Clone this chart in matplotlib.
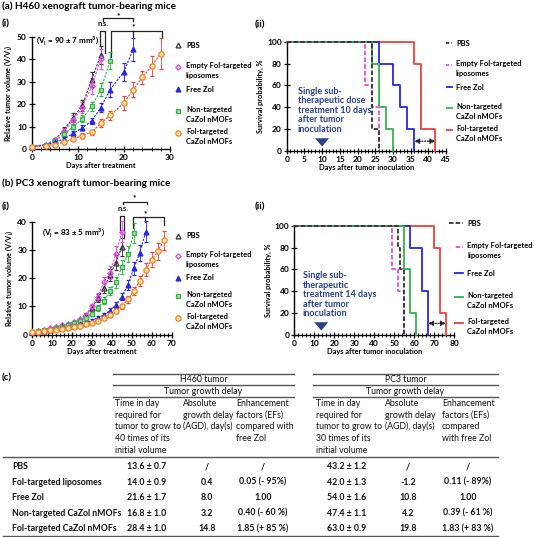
import matplotlib
matplotlib.use('Agg')
import matplotlib.pyplot as plt
from matplotlib.ticker import MultipleLocator

plt.rcParams['font.family'] = ['Lato', 'DejaVu Sans']
plt.rcParams['axes.linewidth'] = 1.0

# ---------------- data ----------------
# (a)(i) H460 tumor growth, relative volume V/Vi
h460_pbs_days = [0, 3, 5, 7, 9, 11, 13, 15]
h460_pbs = [1, 2, 4, 8.5, 14, 19.5, 31, 42]
h460_pbs_err = [0.2, 0.4, 0.8, 1.5, 2, 2.5, 3.5, 4]
h460_lip_days = [0, 3, 5, 7, 9, 11, 13, 15]
h460_lip = [1, 2, 4, 8, 13, 18.5, 28, 40]
h460_lip_err = [0.2, 0.4, 0.8, 1.5, 2, 2.5, 3.5, 4.5]
h460_zol_days = [0, 3, 5, 7, 9, 11, 13, 15, 17, 20, 22]
h460_zol = [1, 1.8, 3, 4.5, 7, 9.5, 12.5, 18.5, 26.5, 34.5, 44.5]
h460_zol_err = [0.2, 0.3, 0.5, 0.8, 1, 1.2, 1.5, 2, 3.5, 4, 5]
h460_non_days = [0, 3, 5, 7, 9, 11, 13, 15, 17]
h460_non = [1, 2, 3.5, 6.5, 10, 13.5, 19, 26.5, 39.5]
h460_non_err = [0.2, 0.3, 0.6, 1, 1.2, 1.5, 2, 3, 4]
h460_fol_days = [0, 3, 5, 7, 9, 11, 13, 15, 17, 20, 22, 24, 26, 28]
h460_fol = [1, 1.5, 2, 3, 4.5, 6, 7.5, 11.5, 15, 20.5, 26.5, 32, 37, 42.5]
h460_fol_err = [0.2, 0.3, 0.4, 0.6, 0.8, 1, 1.2, 1.8, 2, 3, 3.5, 3, 4.5, 7]

# (b)(i) PC3 tumor growth
pc3_pbs_days = [0, 3, 6, 9, 12, 15, 18, 21, 24, 27, 30, 33, 36, 39, 42, 45]
pc3_pbs = [1, 1.3, 1.8, 2.3, 2.8, 3.3, 3.8, 4.5, 5.5, 7, 9.5, 13, 16.5, 21, 25.5, 31]
pc3_lip_days = [0, 3, 6, 9, 12, 15, 18, 21, 24, 27, 30, 33, 36, 39, 42, 45]
pc3_lip = [1, 1.3, 1.8, 2.3, 2.8, 3.3, 3.8, 4.5, 5.5, 7, 10, 13.5, 18.5, 22, 28.5, 36.5]
pc3_non_days = [0, 3, 6, 9, 12, 15, 18, 21, 24, 27, 30, 33, 36, 39, 42, 45, 48, 51]
pc3_non = [1, 1.2, 1.5, 1.8, 2.3, 2.8, 3.3, 4, 5, 6, 7.5, 9.5, 12, 15.5, 18.5, 24, 28.5, 36]
pc3_zol_days = [0, 3, 6, 9, 12, 15, 18, 21, 24, 27, 30, 33, 36, 39, 42, 45, 48, 51, 54, 57]
pc3_zol = [1, 1.2, 1.4, 1.6, 1.9, 2.3, 2.7, 3.2, 3.7, 4.3, 5, 6, 7, 8.5, 10.5, 13.5, 17.5, 23.5, 29, 36.5]
pc3_fol_days = [0, 3, 6, 9, 12, 15, 18, 21, 24, 27, 30, 33, 36, 39, 42, 45, 48, 51, 54, 57, 60, 63, 66]
pc3_fol = [1, 1.1, 1.3, 1.5, 1.8, 2.1, 2.4, 2.8, 3.2, 3.7, 4.3, 5, 6, 7, 8.5, 10, 12.5, 15.5, 19, 23, 26.5, 29.5, 33.5]

# (a)(ii) H460 survival (step curves)
h460_surv = {
    'PBS': ([0, 24, 26], [100, 20, 0]),
    'lip': ([0, 22, 24, 26], [100, 60, 40, 0]),
    'zol': ([0, 26, 30, 32, 34, 36], [100, 80, 60, 40, 20, 0]),
    'non': ([0, 24, 26, 28, 30], [100, 80, 40, 20, 0]),
    'fol': ([0, 36, 38, 42], [100, 80, 20, 0]),
}
# (b)(ii) PC3 survival
pc3_surv = {
    'PBS': ([0, 52, 53, 55], [100, 80, 60, 0]),
    'lip': ([0, 49, 52, 55], [100, 60, 40, 0]),
    'zol': ([0, 58, 64, 67], [100, 80, 40, 0]),
    'non': ([0, 55, 58, 61], [100, 60, 20, 0]),
    'fol': ([0, 70, 73, 76], [100, 80, 20, 0]),
}

# (c) table
row_labels = ['PBS', 'Fol-targeted liposomes', 'Free Zol',
              'Non-targeted CaZol nMOFs', 'Fol-targeted CaZol nMOFs']
h460_time = ['13.6 ± 0.7', '14.0 ± 0.9', '21.6 ± 1.7', '16.8 ± 1.0', '28.4 ± 1.0']
h460_agd = ['/', '0.4', '8.0', '3.2', '14.8']
h460_ef = ['/', '0.05 (- 95%)', '1.00', '0.40 (- 60 %)', '1.85 (+ 85 %)']
pc3_time = ['43.2 ± 1.2', '42.0 ± 1.3', '54.0 ± 1.6', '47.4 ± 1.1', '63.0 ± 0.9']
pc3_agd = ['/', '-1.2', '10.8', '4.2', '19.8']
pc3_ef = ['/', '0.11 (- 89%)', '1.00', '0.39 (- 61 %)', '1.83 (+ 83 %)']

BLACK = '#333333'
MAG = '#e64ce6'
BLUE = '#2626e6'
GREEN = '#33b44a'
RED = '#f0403c'
ORANGE = '#f5821f'
NAVY = '#2b3f8c'

# marker styles for growth curves: line colour, marker, face, edge, size
gstyle = {
    'PBS': (BLACK, '^', 'none', BLACK, 3.5),
    'lip': (MAG, 'D', 'none', MAG, 2.8),
    'zol': (BLUE, '^', BLUE, BLUE, 3.5),
    'non': (GREEN, 's', '#9be09b', GREEN, 3.5),
    'fol': (RED, 'o', '#fde3a8', ORANGE, 3.8),
}
sstyle = {
    'PBS': (BLACK, (0, (2.5, 1.2))),
    'lip': (MAG, (0, (2.5, 1.2))),
    'zol': (BLUE, '-'),
    'non': (GREEN, '-'),
    'fol': (RED, '-'),
}

LAB = 5.3   # axis label size
LEG = 5.4   # legend text size

fig = plt.figure(figsize=(5.35, 5.37), dpi=100)
# overlay in pixel coordinates for titles, legends and the table
ov = fig.add_axes([0, 0, 1, 1])
ov.set_xlim(0, 535)
ov.set_ylim(537, 0)
ov.axis('off')


def px_axes(x0, x1, ytop, ybot):
    return fig.add_axes([x0 / 535, 1 - ybot / 537, (x1 - x0) / 535, (ybot - ytop) / 537])


def style_axes(ax):
    for s in ['top', 'right']:
        ax.spines[s].set_visible(False)
    ax.tick_params(which='major', direction='inout', length=4, width=0.9, labelsize=6, pad=1.5)
    ax.tick_params(which='minor', direction='inout', length=2.5, width=0.7)
    for lab in ax.get_xticklabels() + ax.get_yticklabels():
        lab.set_fontweight('bold')


def growth(ax, days, vals, errs, key):
    c, m, fc, ec, ms = gstyle[key]
    ax.errorbar(days, vals, yerr=errs, color=c, ls=(0, (2, 1.2)), lw=0.8, marker=m,
                ms=ms, mfc=fc, mec=ec, mew=0.9, ecolor=c, elinewidth=0.6, capsize=1.5,
                clip_on=False, zorder=3)


# ---------- (a)(i) ----------
ax1 = px_axes(31.7, 170, 37, 149)
growth(ax1, h460_pbs_days, h460_pbs, h460_pbs_err, 'PBS')
growth(ax1, h460_lip_days, h460_lip, h460_lip_err, 'lip')
growth(ax1, h460_non_days, h460_non, h460_non_err, 'non')
growth(ax1, h460_zol_days, h460_zol, h460_zol_err, 'zol')
growth(ax1, h460_fol_days, h460_fol, h460_fol_err, 'fol')
ax1.set_xlim(0, 30)
ax1.set_ylim(0, 50)
ax1.xaxis.set_major_locator(MultipleLocator(10))
ax1.xaxis.set_minor_locator(MultipleLocator(2))
ax1.yaxis.set_major_locator(MultipleLocator(10))
style_axes(ax1)
ax1.set_xlabel('Days after treatment', fontsize=LAB, fontweight='bold', labelpad=1)
ax1.set_ylabel('Relative tumor volume (V/V$_\\mathregular{i}$)', fontsize=LAB, fontweight='bold', labelpad=2)
ax1.text(1, 47, '(V$_\\mathregular{i}$ = 90 ± 7 mm$^\\mathregular{3}$)', fontsize=5.8, fontweight='bold')
# significance brackets
kw = dict(color='#222222', lw=0.9, clip_on=False)
ax1.plot([14.8, 14.8, 16.0, 16.0], [45.8, 52.8, 52.8, 43], **kw)
ax1.text(15.5, 54.3, 'n.s.', fontsize=5.3, ha='center', va='bottom', fontweight='bold')
ax1.plot([17.2, 17.2, 28.2, 28.2], [41, 52.8, 52.8, 50], **kw)
ax1.plot([22, 22], [52.8, 50], **kw)
ax1.text(22, 54.6, '*', fontsize=6, ha='center', va='center', fontweight='bold')
ax1.plot([15.5, 15.5, 22, 22], [57, 58.5, 58.5, 57], **kw)
ax1.text(18.7, 59.6, '*', fontsize=6, ha='center', va='center', fontweight='bold')

# ---------- (b)(i) ----------
ax3 = px_axes(32, 171.7, 221.7, 334.7)
growth(ax3, pc3_pbs_days, pc3_pbs, [0.1 * v for v in pc3_pbs], 'PBS')
growth(ax3, pc3_lip_days, pc3_lip, [0.1 * v for v in pc3_lip], 'lip')
growth(ax3, pc3_non_days, pc3_non, [0.1 * v for v in pc3_non], 'non')
growth(ax3, pc3_zol_days, pc3_zol, [0.1 * v for v in pc3_zol], 'zol')
growth(ax3, pc3_fol_days, pc3_fol, [0.1 * v for v in pc3_fol], 'fol')
ax3.set_xlim(0, 70)
ax3.set_ylim(0, 40)
ax3.xaxis.set_major_locator(MultipleLocator(10))
ax3.xaxis.set_minor_locator(MultipleLocator(2))
ax3.yaxis.set_major_locator(MultipleLocator(10))
style_axes(ax3)
ax3.set_xlabel('Days after treatment', fontsize=LAB, fontweight='bold', labelpad=1)
ax3.set_ylabel('Relative tumor volume (V/V$_\\mathregular{i}$)', fontsize=LAB, fontweight='bold', labelpad=2)
ax3.text(5, 35, '(V$_\\mathregular{i}$ = 83 ± 5 mm$^\\mathregular{3}$)', fontsize=5.8, fontweight='bold')
ax3.plot([44.1, 44.1, 46.1, 46.1], [36.5, 42.1, 42.1, 34.1], **kw)
ax3.text(45.5, 43.3, 'n.s.', fontsize=5.3, ha='center', va='bottom', fontweight='bold')
ax3.plot([50.4, 50.4, 66.3, 66.3], [37.6, 41.5, 41.5, 39], **kw)
ax3.plot([56.8, 56.8], [41.5, 40], **kw)
ax3.text(56.8, 43, '*', fontsize=6, ha='center', va='center', fontweight='bold')
ax3.plot([45.7, 45.7, 57.4, 57.4], [46.1, 47.1, 47.1, 46.1], **kw)
ax3.text(51.5, 48.5, '*', fontsize=6, ha='center', va='center', fontweight='bold')


# ---------- survival panels ----------
def survival(ax, data, xmax, xmaj, xmin, arrow_x, note, arrow_span):
    for key in ['fol', 'zol', 'non', 'lip', 'PBS']:
        t, s = data[key]
        c, ls = sstyle[key]
        ax.step(t, s, where='post', color=c, ls=ls, lw=1.3, clip_on=False, zorder=3)
    ax.set_xlim(0, xmax)
    ax.set_ylim(0, 100)
    ax.xaxis.set_major_locator(MultipleLocator(xmaj))
    ax.xaxis.set_minor_locator(MultipleLocator(xmin))
    ax.yaxis.set_major_locator(MultipleLocator(20))
    style_axes(ax)
    ax.set_xlabel('Days after tumor inoculation', fontsize=LAB, fontweight='bold', labelpad=1)
    ax.set_ylabel('Survival probability, %', fontsize=LAB, fontweight='bold', labelpad=2)
    ax.annotate('', xy=(arrow_x, 1.5), xytext=(arrow_x, 13),
                arrowprops=dict(arrowstyle='simple,head_width=1.0,head_length=0.6,tail_width=0.5',
                                color=NAVY, lw=0))
    ax.text(note[0], note[1], note[2], fontsize=6.5, color=NAVY, fontweight='bold',
            va='top', ha='left', linespacing=1.08)
    ax.annotate('', xy=(arrow_span[0], arrow_span[2]), xytext=(arrow_span[1], arrow_span[2]),
                arrowprops=dict(arrowstyle='<|-|>,head_width=0.15,head_length=0.3',
                                color='#222222', lw=0.9, ls=(0, (1, 1.2)),
                                shrinkA=0, shrinkB=0))


ax2 = px_axes(286.7, 446, 41.7, 151)
survival(ax2, h460_surv, 45, 5, 1, 10,
         (3.1, 59, 'Single sub-\ntherapeutic dose\ntreatment 10 days\nafter tumor\ninoculation'),
         (36, 42, 9))
ax4 = px_axes(294.3, 454, 225.7, 335)
survival(ax4, pc3_surv, 80, 10, 2, 13.5,
         (4.2, 58.5, 'Single sub-\ntherapeutic\ntreatment 14 days\nafter tumor\ninoculation'),
         (67, 76, 10.7))

# ---------- titles ----------
ov.text(2, 6, '(a) H460 xenograft tumor-bearing mice', fontsize=7.2, fontweight='bold', va='center')
ov.text(2, 24, '(i)', fontsize=7.2, fontweight='bold', va='center')
ov.text(255, 25, '(ii)', fontsize=7.2, fontweight='bold', va='center')
ov.text(2, 183, '(b) PC3 xenograft tumor-bearing mice', fontsize=7.2, fontweight='bold', va='center')
ov.text(2, 207, '(i)', fontsize=7.2, fontweight='bold', va='center')
ov.text(255, 207, '(ii)', fontsize=7.2, fontweight='bold', va='center')

# ---------- legends (pixel coordinates) ----------
leg_names = {
    'PBS': 'PBS',
    'lip': 'Empty Fol-targeted\nliposomes',
    'zol': 'Free Zol',
    'non': 'Non-targeted\nCaZol nMOFs',
    'fol': 'Fol-targeted\nCaZol nMOFs',
}
order = ['PBS', 'lip', 'zol', 'non', 'fol']


def leg_text(x, y, nm):
    if '\n' in nm:
        ov.text(x, y - 5, nm, fontsize=LEG, fontweight='bold', va='top', linespacing=1.55)
    else:
        ov.text(x, y, nm, fontsize=LEG, fontweight='bold', va='center')


def marker_legend(x, ys):
    for key, y in zip(order, ys):
        c, m, fc, ec, ms = gstyle[key]
        ov.plot([x], [y], marker=m, ms=ms, mfc=fc, mec=ec, mew=0.9, ls='none')
        leg_text(x + 8, y, leg_names[key])


def line_legend(x0, x1, ys):
    for key, y in zip(order, ys):
        c, ls = sstyle[key]
        ov.plot([x0, x1], [y, y], color=c, ls=ls, lw=1.3)
        leg_text(x1 + 4, y, leg_names[key])


marker_legend(178, [45, 67, 89, 111, 133])
marker_legend(178, [236, 256, 278, 296, 318])
line_legend(438, 452, [43, 65, 87, 108, 130])
line_legend(449, 463, [223, 247, 273, 297, 323])

# ---------- (c) table ----------
ov.text(2, 378, '(c)', fontsize=7, fontweight='bold', va='center')
tk = dict(fontsize=6.3, va='center', color='#111111')
rule = dict(color='#555555', lw=1.0)
for (xa, xb, name) in [(113, 294, 'H460 tumor'), (313, 498, 'PC3 tumor')]:
    ov.plot([xa, xb], [374, 374], **rule)
    ov.plot([xa, xb], [385, 385], **rule)
    ov.plot([xa, xb], [396.7, 396.7], **rule)
    ov.text((xa + xb) / 2, 380, name, ha='center', **tk)
    ov.text((xa + xb) / 2, 391, 'Tumor growth delay', ha='center', **tk)
ov.plot([3, 498], [457, 457], **rule)
ov.plot([3, 498], [536, 536], **rule)

h460_heads = ['Time in day\nrequired for\ntumor to grow to\n40 times of its\ninitial volume',
              'Absolute\ngrowth delay\n(AGD), day(s)',
              'Enhancement\nfactors (EFs)\ncompared with\nfree Zol']
pc3_heads = ['Time in day\nrequired for\ntumor to grow to\n30 times of its\ninitial volume',
             'Absolute\ngrowth delay\n(AGD), day(s)',
             'Enhancement\nfactors (EFs)\ncompared\nwith free Zol']
for heads, xs in [(h460_heads, [115, 183, 236]), (pc3_heads, [316, 385, 442])]:
    for h, x in zip(heads, xs):
        for i, line in enumerate(h.split('\n')):
            ov.text(x, 403.3 + 11.7 * i, line, ha='left', **tk)

for i, lab in enumerate(row_labels):
    y = 466.7 + 15.5 * i
    ov.text(12, y, lab, ha='left', fontweight='bold', **tk)
    for col, x in zip([h460_time, h460_agd, h460_ef, pc3_time, pc3_agd, pc3_ef],
                      [147, 207, 263, 347, 408, 468]):
        ov.text(x, y, col[i], ha='center', fontweight='bold', **tk)

fig.savefig('out.png', dpi=100)
